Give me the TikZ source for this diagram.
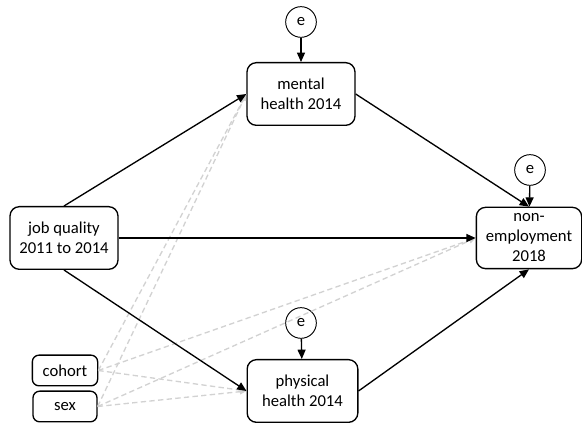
\documentclass[tikz,border=0pt]{standalone}
\usepackage{fontspec}
\setmainfont{Carlito}
\usetikzlibrary{arrows.meta}
\tikzstyle{block} = [rectangle, draw, line width=1pt, text centered, align=center, rounded corners=7pt, inner sep=1pt, font=\fontsize{12.5}{15}\selectfont]
\tikzstyle{errnode} = [circle, draw, line width=0.7pt, minimum size=23pt, inner sep=0pt, font=\fontsize{12.5}{15}\selectfont]
\tikzstyle{line} = [draw, line width=1pt, -{Triangle[length=7pt,width=6pt]}]
\tikzstyle{ctrl} = [draw, line width=1pt, dash pattern=on 4pt off 2.5pt, gray!35, -{Triangle[length=5pt,width=4pt]}]

\begin{document}
\begin{tikzpicture}[x=0.75pt, y=-0.75pt]
    \useasboundingbox (0,0) rectangle (582,423);
    \node [block, minimum width=81pt, minimum height=47pt] (job) at (64,238) {job quality\\2011 to 2014};
    \node [block, minimum width=81pt, minimum height=47pt] (mental) at (301,94) {mental\\health 2014};
    \node [block, minimum width=79pt, minimum height=46pt] (nonemp) at (529,238) {non-\\employment\\2018};
    \node [block, minimum width=83pt, minimum height=47pt] (physical) at (302.5,391) {physical\\health 2014};
    \node [block, minimum width=49pt, minimum height=23pt, rounded corners=5pt] (cohort) at (65,370.5) {cohort};
    \node [block, minimum width=48pt, minimum height=23pt, rounded corners=5pt] (sex) at (65,406.5) {sex};
    \node [errnode] (emental) at (301,22) {e};
    \node [errnode] (enonemp) at (530,170) {e};
    \node [errnode] (ephysical) at (301,323) {e};

    % control variables
    \path [ctrl] (cohort.east) -- (mental.west);
    \path [ctrl] (cohort.east) -- (nonemp.west);
    \path [ctrl] (cohort.east) -- (physical.west);
    \path [ctrl] (sex.east) -- (mental.west);
    \path [ctrl] (sex.east) -- (nonemp.west);
    \path [ctrl] (sex.east) -- (physical.west);

    \path [line] (job.north) -- (mental.west);
    \path [line] (job.east) -- (nonemp.west);
    \path [line] (job.south) -- (physical.west);
    \path [line] (mental.east) -- (nonemp.north);
    \path [line] (physical.east) -- (nonemp.south);
    \path [line] (emental) -- (mental);
    \path [line] (enonemp) -- (nonemp);
    \path [line] (ephysical) -- (physical);
\end{tikzpicture}
\end{document}
